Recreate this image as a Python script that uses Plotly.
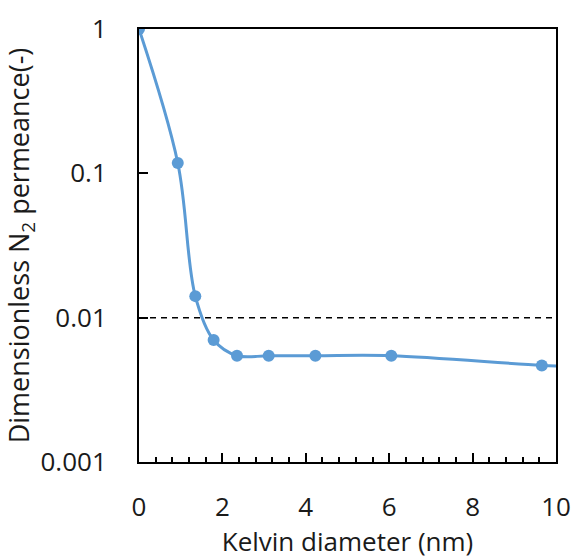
import plotly.graph_objects as go

kelvin_d = [0.0, 0.93, 1.35, 1.79, 2.35, 3.11, 4.23, 6.05, 9.66, 11.0]
permeance = [1.0, 0.118, 0.0141, 0.0070, 0.00545, 0.00545, 0.00545, 0.00545, 0.00467, 0.0045]
ref_x = [0, 10]
ref_y = [0.01, 0.01]

fig = go.Figure()
fig.add_trace(go.Scatter(x=ref_x, y=ref_y, mode="lines",
                         line=dict(color="black", width=1.5, dash="6px,5px"),
                         showlegend=False, hoverinfo="skip"))
fig.add_trace(go.Scatter(x=kelvin_d, y=permeance, mode="lines+markers",
                         line=dict(color="#5B9BD5", width=3, shape="spline", smoothing=1),
                         marker=dict(color="#5B9BD5", size=12),
                         showlegend=False, cliponaxis=True))

font = "Open Sans, Lato, sans-serif"
fig.update_layout(
    width=574, height=559,
    margin=dict(l=139, r=18, t=29, b=97),
    paper_bgcolor="white", plot_bgcolor="white",
    font=dict(family=font, color="#1a1a1a", size=26),
    xaxis=dict(range=[0, 10], dtick=2, tick0=0, showgrid=False, zeroline=False,
               automargin=False,
               showline=True, linecolor="black", linewidth=2, mirror=True,
               ticks="inside", ticklen=9, tickwidth=2, tickcolor="black",
               minor=dict(dtick=0.4, ticks="inside", ticklen=5, tickwidth=2, tickcolor="black"),
               ticklabelstandoff=21, tickfont=dict(size=26),
               title=dict(text="Kelvin diameter (nm)", font=dict(size=26), standoff=4)),
    yaxis=dict(type="log", range=[-3, 0], showgrid=False, zeroline=False,
               automargin=False,
               tickvals=[0.001, 0.01, 0.1, 1], ticktext=["0.001", "0.01", "0.1", "1"],
               showline=True, linecolor="black", linewidth=2, mirror=True,
               ticks="inside", ticklen=9, tickwidth=2, tickcolor="black",
               ticklabelstandoff=25, tickfont=dict(size=26),
               title=dict(text="Dimensionless N<sub>2</sub> permeance(-)", font=dict(size=27), standoff=0)),
)
fig.write_html("out.html")
